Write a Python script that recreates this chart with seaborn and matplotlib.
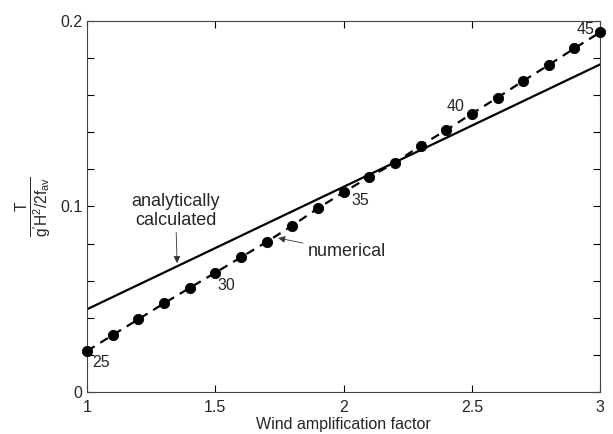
import numpy as np
import pandas as pd
import matplotlib
matplotlib.use("Agg")
import matplotlib.pyplot as plt
import seaborn as sns
from matplotlib.ticker import MultipleLocator

sns.set_theme(style="ticks")
plt.rcParams['font.family'] = ['Liberation Sans', 'DejaVu Sans']
plt.rcParams['mathtext.fontset'] = 'custom'
plt.rcParams['mathtext.rm'] = 'Liberation Sans'
plt.rcParams['mathtext.it'] = 'Liberation Sans'
plt.rcParams['mathtext.bf'] = 'Liberation Sans:bold'

# Data
wind_factor = [1.0, 1.1, 1.2, 1.3, 1.4, 1.5, 1.6, 1.7, 1.8, 1.9, 2.0,
               2.1, 2.2, 2.3, 2.4, 2.5, 2.6, 2.7, 2.8, 2.9, 3.0]
numerical = [0.0221, 0.0307, 0.0392, 0.0478, 0.0561, 0.0643, 0.0726, 0.0809,
             0.0897, 0.0990, 0.1077, 0.1159, 0.1235, 0.1328, 0.1412, 0.1500,
             0.1587, 0.1677, 0.1763, 0.1853, 0.1939]
analytic_x = [1.0, 3.0]
analytic_y = [0.0446, 0.1766]
point_labels = ["25", "30", "35", "40", "45"]
label_x = [1.02, 1.51, 2.03, 2.40, 2.91]
label_y = [0.016, 0.0573, 0.1035, 0.1538, 0.1955]
x_ticks = [1, 1.5, 2, 2.5, 3]
x_ticklabels = ["1", "1.5", "2", "2.5", "3"]
y_ticks = [0, 0.1, 0.2]
y_ticklabels = ["0", "0.1", "0.2"]

df_num = pd.DataFrame({"x": wind_factor, "y": numerical})
df_an = pd.DataFrame({"x": analytic_x, "y": analytic_y})

fig = plt.figure(figsize=(6.13, 4.34), dpi=100)
ax = fig.add_axes([0.142, 0.0968, 0.837, 0.8548])

sns.lineplot(data=df_an, x="x", y="y", ax=ax, color="black", linewidth=1.6)
sns.lineplot(data=df_num, x="x", y="y", ax=ax, color="black", linewidth=1.6,
             linestyle=(0, (4, 3)))
sns.scatterplot(data=df_num, x="x", y="y", ax=ax, color="black", s=55,
                edgecolor="black", zorder=5, clip_on=False)

for t, lx, ly in zip(point_labels, label_x, label_y):
    ax.text(lx, ly, t, fontsize=11.5, ha="left", va="center")

ax.annotate("analytically\ncalculated", xy=(1.351, 0.0695), xytext=(1.345, 0.0975),
            ha="center", va="center", fontsize=13, linespacing=1.15,
            arrowprops=dict(arrowstyle="-|>", color="#333333", lw=0.6,
                            shrinkA=0, shrinkB=0, mutation_scale=10))
ax.annotate("numerical", xy=(1.745, 0.083), xytext=(1.86, 0.0755),
            ha="left", va="center", fontsize=13,
            arrowprops=dict(arrowstyle="-|>", color="#333333", lw=0.6,
                            shrinkA=1, shrinkB=0, mutation_scale=10))

ax.set_xlim(1, 3)
ax.set_ylim(0, 0.2)
ax.set_xticks(x_ticks)
ax.set_xticklabels(x_ticklabels)
ax.set_yticks(y_ticks)
ax.set_yticklabels(y_ticklabels)
ax.yaxis.set_minor_locator(MultipleLocator(0.02))
ax.tick_params(axis="both", which="both", direction="in", top=True, right=True,
               labelsize=11.5, color="black", width=0.8)
ax.tick_params(which="major", length=5)
ax.tick_params(which="minor", length=5)
ax.tick_params(axis="x", pad=6)
for s in ax.spines.values():
    s.set_linewidth(0.8)
    s.set_color("#444444")

ax.set_xlabel("Wind amplification factor", fontsize=11.5, labelpad=1)
ax.set_ylabel(r"$\frac{\mathrm{T}}{\mathrm{g'H^2/2f_{av}}}$", fontsize=16, labelpad=4)

fig.savefig("out.png", dpi=100)
